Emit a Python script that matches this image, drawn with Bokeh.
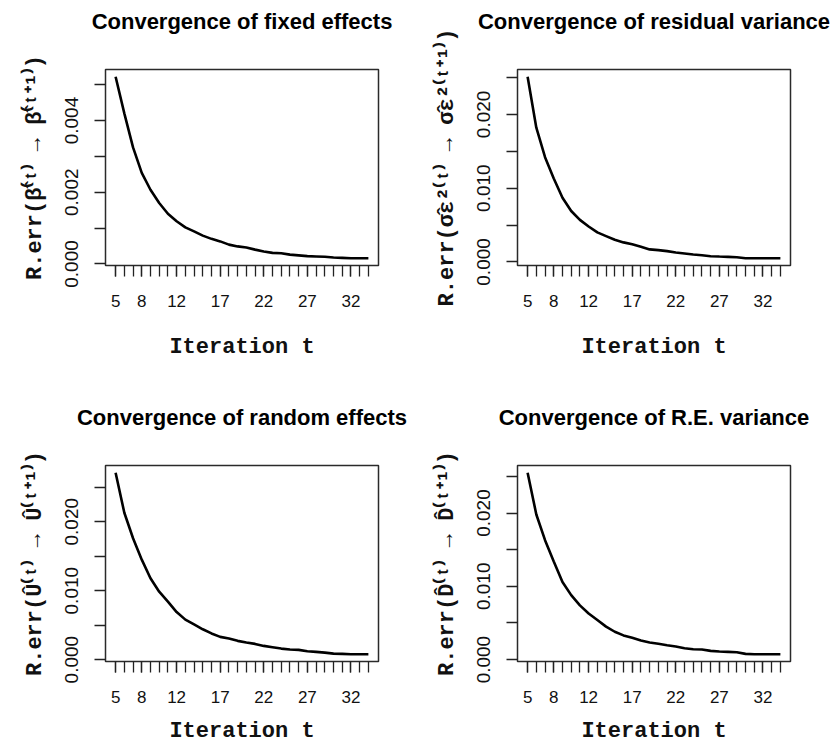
from bokeh.plotting import figure
from bokeh.layouts import column, row
from bokeh.models import FixedTicker, Range1d, NumeralTickFormatter, Title
from bokeh.embed import file_html
from bokeh.resources import INLINE

iterations = list(range(5, 35))
x_labeled = [5, 8, 12, 17, 22, 27, 32]

fixed_effects = [0.00522, 0.00420, 0.00325, 0.00254, 0.00207, 0.00170, 0.00140, 0.00119,
                 0.00102, 0.00091, 0.00079, 0.00070, 0.00063, 0.00054, 0.00049, 0.00046,
                 0.00040, 0.00035, 0.00031, 0.00030, 0.00026, 0.00024, 0.00022, 0.00021,
                 0.00020, 0.00018, 0.00017, 0.00016, 0.00016, 0.00016]
residual_variance = [0.0251, 0.0182, 0.0142, 0.0113, 0.0087, 0.0069, 0.0057, 0.0048,
                     0.0040, 0.0035, 0.0030, 0.00265, 0.0024, 0.00205, 0.0017, 0.0016,
                     0.00146, 0.00128, 0.00114, 0.0010, 0.00091, 0.00078, 0.00073, 0.00069,
                     0.00064, 0.0005, 0.0005, 0.0005, 0.0005, 0.0005]
random_effects = [0.0271, 0.0213, 0.0176, 0.0145, 0.0118, 0.00985, 0.0084, 0.0069,
                  0.0058, 0.0051, 0.0044, 0.0038, 0.0033, 0.00306, 0.00272, 0.00248,
                  0.00228, 0.00199, 0.0018, 0.0016, 0.00146, 0.00141, 0.00121, 0.00112,
                  0.00102, 0.00087, 0.00083, 0.00078, 0.00078, 0.00078]
re_variance = [0.0255, 0.0198, 0.0163, 0.0134, 0.0106, 0.0088, 0.0074, 0.0063,
               0.0054, 0.0045, 0.0038, 0.0033, 0.00297, 0.0026, 0.00233, 0.00215,
               0.00196, 0.00178, 0.00155, 0.00142, 0.00137, 0.00119, 0.0011, 0.00105,
               0.0010, 0.00078, 0.00073, 0.00073, 0.00073, 0.00073]

titles = ["Convergence of fixed effects", "Convergence of residual variance",
          "Convergence of random effects", "Convergence of R.E. variance"]
ylabels = ["R.err(β̂⁽ᵗ⁾ → β̂⁽ᵗ⁺¹⁾)", "R.err(σ̂ε²⁽ᵗ⁾ → σ̂ε²⁽ᵗ⁺¹⁾)",
           "R.err(Û⁽ᵗ⁾ → Û⁽ᵗ⁺¹⁾)", "R.err(D̂⁽ᵗ⁾ → D̂⁽ᵗ⁺¹⁾)"]
xlabel = "Iteration t"

ticks_small_major = [0.0, 0.002, 0.004]
ticks_small_minor = [0.001, 0.003, 0.005]
ticks_large_major = [0.0, 0.010, 0.020]
ticks_large_minor = [0.005, 0.015, 0.025]

TICK_COLOR = "#222222"


def make_panel(title, ylab, values, major, minor, width, height, b_right, b_bottom,
               xlab_standoff):
    lo, hi = min(values), max(values)
    pad = 0.04 * (hi - lo)
    xlo, xhi = min(iterations), max(iterations)
    xpad = 0.04 * (xhi - xlo)
    p = figure(width=width, height=height, output_backend="svg", toolbar_location=None,
               x_range=Range1d(xlo - xpad, xhi + xpad), y_range=Range1d(lo - pad, hi + pad),
               min_border_left=105, min_border_right=b_right, min_border_top=69,
               min_border_bottom=b_bottom, title_location=None)
    p.line(iterations, values, line_color="black", line_width=2.6)

    # spacer between plot box and title (closest to the frame)
    p.add_layout(Title(text=" ", text_font_size="1px", standoff=28, align="center"), "above")
    p.add_layout(Title(text=title, text_font="Liberation Sans", text_font_size="22px",
                       text_font_style="bold", text_color="black", align="center",
                       standoff=10), "above")

    p.grid.grid_line_color = None
    p.outline_line_color = "#2a2a2a"
    p.outline_line_width = 1.5
    p.background_fill_color = "white"
    p.border_fill_color = "white"

    for ax in (p.xaxis[0], p.yaxis[0]):
        ax.axis_line_color = None
        ax.major_tick_in = 0
        ax.major_tick_out = 11
        ax.minor_tick_in = 0
        ax.minor_tick_out = 11
        ax.major_tick_line_color = TICK_COLOR
        ax.minor_tick_line_color = TICK_COLOR
        ax.major_tick_line_width = 1.3
        ax.minor_tick_line_width = 1.3
        ax.major_label_text_font = "Liberation Sans"
        ax.major_label_text_color = "#111111"
        ax.axis_label_text_font = "Liberation Mono"
        ax.axis_label_text_font_style = "bold"
        ax.axis_label_text_color = "#111111"

    xa = p.xaxis[0]
    xa.ticker = FixedTicker(ticks=x_labeled, minor_ticks=iterations)
    xa.major_label_text_font_size = "17px"
    xa.major_label_standoff = 18
    xa.axis_label = xlabel
    xa.axis_label_text_font_size = "22px"
    xa.axis_label_standoff = xlab_standoff

    ya = p.yaxis[0]
    ya.ticker = FixedTicker(ticks=major, minor_ticks=minor)
    ya.formatter = NumeralTickFormatter(format="0.000")
    ya.major_label_orientation = "vertical"
    ya.major_label_text_font_size = "19px"
    ya.major_label_standoff = 16
    ya.axis_label = ylab
    ya.axis_label_text_font_size = "22px"
    ya.axis_label_standoff = 15
    return p


p1 = make_panel(titles[0], ylabels[0], fixed_effects, ticks_small_major, ticks_small_minor,
                412, 396, 34, 131, 25)
p2 = make_panel(titles[1], ylabels[1], residual_variance, ticks_large_major, ticks_large_minor,
                420, 396, 42, 131, 25)
p3 = make_panel(titles[2], ylabels[2], random_effects, ticks_large_major, ticks_large_minor,
                412, 352, 34, 87, 13)
p4 = make_panel(titles[3], ylabels[3], re_variance, ticks_large_major, ticks_large_minor,
                420, 352, 42, 87, 13)

layout = column(row(p1, p2), row(p3, p4))

open("out.html", "w").write(file_html(layout, INLINE))
